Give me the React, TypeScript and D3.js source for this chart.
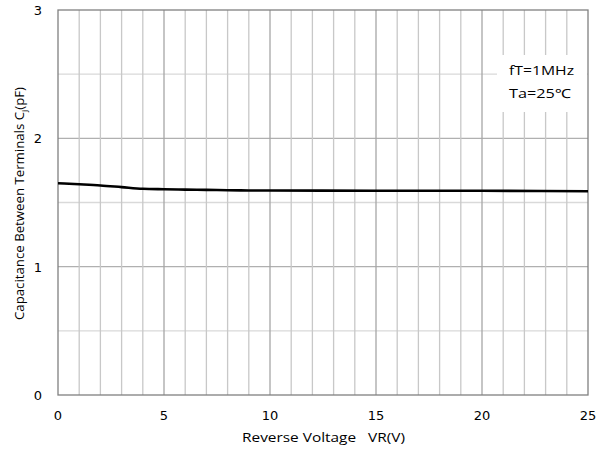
import React from "react";
import * as d3 from "d3";

const xTicks = [0, 5, 10, 15, 20, 25];
const yTicks = [0, 1, 2, 3];
const voltage = [0, 1, 2, 3, 4, 5, 6, 7, 8, 9, 10, 15, 20, 25];
const capacitance = [1.65, 1.642, 1.633, 1.62, 1.607, 1.603, 1.6, 1.598, 1.596, 1.594, 1.593, 1.592, 1.591, 1.588];
const notes = ["fT=1MHz", "Ta=25\u2103"];

const W = 606, H = 450;
const M = { left: 58, right: 588, top: 10, bottom: 395 };

export default function App() {
  const x = d3.scaleLinear().domain([0, 25]).range([M.left, M.right]);
  const y = d3.scaleLinear().domain([0, 3]).range([M.bottom, M.top]);
  const line = d3.line<number>().x((_, i) => x(voltage[i])).y((d) => y(d)).curve(d3.curveMonotoneX);
  const vGrid = d3.range(1, 25);
  const hGrid = d3.range(0.5, 3, 0.5);
  const font = "'DejaVu Sans', Verdana, sans-serif";
  const lfont = "'Open Sans', 'Noto Sans', sans-serif";
  return (
    <svg width={W} height={H} style={{ position: "absolute", left: 0, top: 0, background: "#fff" }}>
      <rect x={0} y={0} width={W} height={H} fill="#fff" />
      {hGrid.map((v) => (
        <line key={"h" + v} x1={M.left} x2={M.right} y1={y(v)} y2={y(v)}
          stroke={Number.isInteger(v) ? "#b0b0b0" : "#d9d9d9"} strokeWidth={1.3} />
      ))}
      {vGrid.map((v) => (
        <line key={"v" + v} x1={x(v)} x2={x(v)} y1={M.top} y2={M.bottom}
          stroke={v % 5 === 0 ? "#a6a6a6" : "#c8c8c8"} strokeWidth={1.3} />
      ))}
      <rect x={497} y={55} width={M.right - 497 - 1} height={57} fill="#fff" />
      {notes.map((t, i) => (
        <text key={t} x={509} y={75 + i * 23} fontFamily={lfont} fontSize={12.5} fill="#000"
          textLength={i === 0 ? 65 : 62} lengthAdjust="spacingAndGlyphs">{t}</text>
      ))}
      <rect x={M.left} y={M.top} width={M.right - M.left} height={M.bottom - M.top} fill="none" stroke="#808080" strokeWidth={1.3} />
      <path d={line(capacitance) || ""} fill="none" stroke="#000" strokeWidth={2.6} />
      {xTicks.map((v) => (
        <text key={"xt" + v} x={x(v)} y={420} textAnchor="middle" fontFamily={font} fontSize={13} fill="#000">{v}</text>
      ))}
      {yTicks.map((v) => (
        <text key={"yt" + v} x={42} y={y(v) + 5} textAnchor="end" fontFamily={font} fontSize={13} fill="#000">{v}</text>
      ))}
      <text x={242} y={442} fontFamily={lfont} fontSize={12.5} fill="#000" xmlSpace="preserve"
        textLength={163} lengthAdjust="spacingAndGlyphs">Reverse Voltage   VR(V)</text>
      <text transform={`translate(24, 320) rotate(-90)`} fontFamily={lfont} fontSize={12} fill="#000"
        textLength={233} lengthAdjust="spacingAndGlyphs">
        Capacitance Between Terminals C<tspan fontSize={8} dy={3}>j</tspan><tspan dy={-3}>(pF)</tspan>
      </text>
    </svg>
  );
}
